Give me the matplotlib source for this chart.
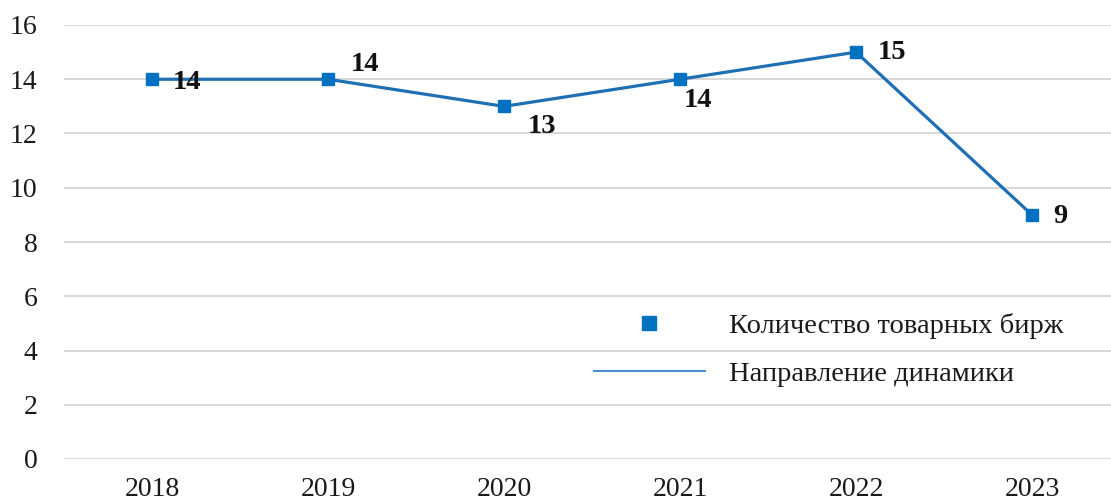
import matplotlib
matplotlib.use("Agg")
import matplotlib.pyplot as plt
from matplotlib.lines import Line2D

years = ["2018", "2019", "2020", "2021", "2022", "2023"]
values = [14, 14, 13, 14, 15, 9]
label_offsets = [(21, -3), (23, 15), (24, -20), (4, -21), (22, 0), (21, -2)]

plt.rcParams['font.family'] = ['Liberation Serif', 'DejaVu Serif']

W, H = 1111, 504
fig = plt.figure(figsize=(W / 100, H / 100), dpi=100)
ax = fig.add_axes([64 / W, 45 / H, (W - 64) / W, 434 / H])

x = list(range(len(years)))
line_color = "#1F6FB5"
mark_color = "#0070C0"
ax.plot(x, values, color=line_color, lw=2.3, zorder=3)
ax.plot(x, values, ls='none', marker='s', ms=8, color=mark_color, zorder=4)

for xi, v, (dx, dy) in zip(x, values, label_offsets):
    ax.annotate(str(v), (xi, v), xytext=(dx, dy), textcoords='offset pixels',
                ha='left', va='center', fontsize=20.5, fontweight='bold', color='#111111')

ax.set_xlim(-0.5, (W - 152) / 176.0)
ax.set_ylim(0, 16)
ax.set_yticks(range(0, 17, 2))
ax.set_xticks(x)
ax.set_xticklabels(years)
ax.grid(axis='y', color='#d9d9d9', lw=1.5)
ax.set_axisbelow(True)
for s in ax.spines.values():
    s.set_visible(False)
ax.tick_params(axis='both', length=0, labelsize=20, colors='#1a1a1a')
ax.tick_params(axis='y', pad=19)
ax.tick_params(axis='x', pad=13)

h1 = Line2D([], [], ls='none', marker='s', ms=10, color=mark_color)
h2 = Line2D([], [], color='#4A8FCF', lw=1.5)
leg = ax.legend([h1, h2], ["Количество товарных бирж", "Направление динамики"],
                loc='upper left', bbox_to_anchor=(568 / W, 1 - 287 / H),
                bbox_transform=fig.transFigure, frameon=False, fontsize=20.5,
                handlelength=3.9, handletextpad=0.85, labelspacing=0.8)
for t in leg.get_texts():
    t.set_color('#1a1a1a')

fig.savefig("out.png", dpi=100)
